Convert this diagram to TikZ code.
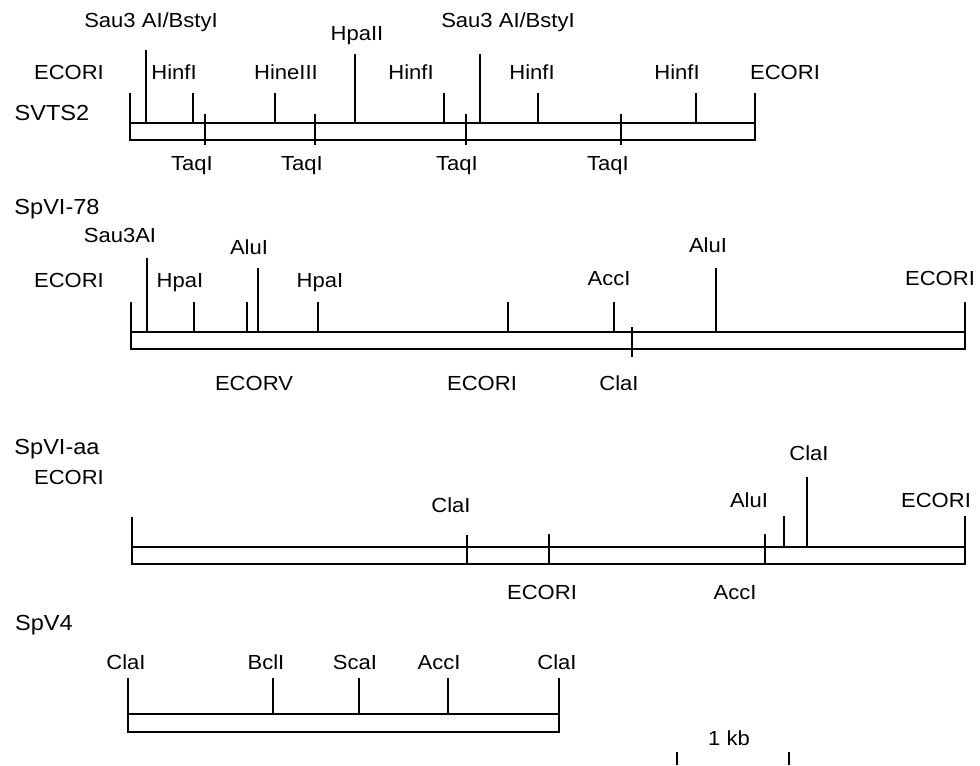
\documentclass[tikz,border=0pt]{standalone}
\usepackage{fontspec}
\setmainfont{Liberation Sans}[FakeStretch=1.08]
\begin{document}
\begin{tikzpicture}[x=0.025cm, y=-0.025cm,
    enz/.style={font=\fontsize{14.5}{17}\selectfont, inner sep=0pt, text height=10.4pt, text depth=0pt},
    clone/.style={enz, font=\fontsize{15.5}{18}\selectfont, text height=11.1pt},
    strand/.style={line width=1.2pt},
    cut/.style={line width=0.9pt}]
    \useasboundingbox (0,0) rectangle (980,765);
    % SVTS2 map
    \node[clone] (svts) at (52,113) {SVTS2};
    \node[enz] (svecoL) at (69,72) {ECORI};
    \node[enz] (svsauA) at (151,20) {Sau3 AI/BstyI};
    \node[enz] (svhinA) at (174,72) {HinfI};
    \node[enz] (svhine) at (286,72) {HineIII};
    \node[enz] (svhpa) at (357,33) {HpaII};
    \node[enz] (svhinB) at (411,72) {HinfI};
    \node[enz] (svsauB) at (508,20) {Sau3 AI/BstyI};
    \node[enz] (svhinC) at (532,72) {HinfI};
    \node[enz] (svhinD) at (677,72) {HinfI};
    \node[enz] (svecoR) at (785,72) {ECORI};
    \node[enz] (svtaqA) at (192,163) {TaqI};
    \node[enz] (svtaqB) at (302,163) {TaqI};
    \node[enz] (svtaqC) at (457,163) {TaqI};
    \node[enz] (svtaqD) at (608,163) {TaqI};
    \draw[strand] (130,93) -- (130,140) -- (755,140) -- (755,93);
    \draw[strand] (130,123) -- (755,123);
    \draw[cut] (146,50) -- (146,123) (193,93) -- (193,123) (275,93) -- (275,123)
      (355,54) -- (355,123) (444,93) -- (444,123) (480,54) -- (480,123)
      (538,93) -- (538,123) (696,93) -- (696,123);
    \draw[cut] (205,114) -- (205,145) (315,114) -- (315,145)
      (466,114) -- (466,145) (621,114) -- (621,145);
    % SpVI-78 map
    \node[clone] (spa) at (57,207) {SpVI-78};
    \node[enz] (spaecoL) at (69,280) {ECORI};
    \node[enz] (spasau) at (120,235) {Sau3AI};
    \node[enz] (spahpaA) at (180,280) {HpaI};
    \node[enz] (spaaluA) at (249,247) {AluI};
    \node[enz] (spahpaB) at (320,280) {HpaI};
    \node[enz] (spaacc) at (609,278) {AccI};
    \node[enz] (spaaluB) at (708,245) {AluI};
    \node[enz] (spaecoR) at (940,278) {ECORI};
    \node[enz] (spaecv) at (254,383) {ECORV};
    \node[enz] (spaecoM) at (482,383) {ECORI};
    \node[enz] (spacla) at (619,383) {ClaI};
    \draw[strand] (131,302) -- (131,349) -- (965,349) -- (965,302);
    \draw[strand] (131,332) -- (965,332);
    \draw[cut] (147,258) -- (147,332) (194,302) -- (194,332) (247,302) -- (247,332)
      (258,268) -- (258,332) (318,302) -- (318,332) (508,302) -- (508,332)
      (614,302) -- (614,332) (716,268) -- (716,332);
    \draw[cut] (632,327) -- (632,357);
    % SpVI-aa map
    \node[clone] (spb) at (57,447) {SpVI-aa};
    \node[enz] (spbecoL) at (69,477) {ECORI};
    \node[enz] (spbclaA) at (451,505) {ClaI};
    \node[enz] (spbalu) at (749,500) {AluI};
    \node[enz] (spbclaB) at (809,453) {ClaI};
    \node[enz] (spbecoR) at (936,500) {ECORI};
    \node[enz] (spbecoM) at (542,592) {ECORI};
    \node[enz] (spbacc) at (735,592) {AccI};
    \draw[strand] (132,517) -- (132,564) -- (965,564) -- (965,516);
    \draw[strand] (132,547) -- (965,547);
    \draw[cut] (467,535) -- (467,564) (549,534) -- (549,564) (765,534) -- (765,564);
    \draw[cut] (784,516) -- (784,547) (807,477) -- (807,547);
    % SpV4 map
    \node[clone] (spc) at (44,623) {SpV4};
    \node[enz] (spcclaA) at (126,662) {ClaI};
    \node[enz] (spcbcl) at (266,662) {BclI};
    \node[enz] (spcsca) at (355,662) {ScaI};
    \node[enz] (spcacc) at (439,662) {AccI};
    \node[enz] (spcclaB) at (557,662) {ClaI};
    \draw[strand] (128,678) -- (128,732) -- (559,732) -- (559,678);
    \draw[strand] (128,714) -- (559,714);
    \draw[cut] (273,678) -- (273,714) (359,678) -- (359,714) (448,678) -- (448,714);
    % scale bar
    \node[enz] (kb) at (729,738) {1 kb};
    \draw[cut] (677,752) -- (677,765) (789,752) -- (789,765);
\end{tikzpicture}
\end{document}
